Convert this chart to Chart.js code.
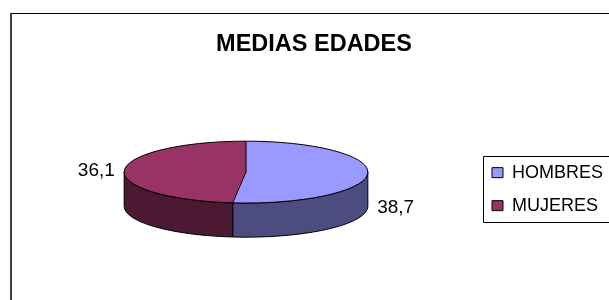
<!DOCTYPE html>
<html>
<head>
<meta charset="utf-8">
<script src="https://cdn.jsdelivr.net/npm/chart.js@4.4.0/dist/chart.umd.min.js"></script>
<style>
  html, body { margin: 0; padding: 0; overflow: hidden; background: #fff; }
  #clip { position: absolute; left: 0; top: 0; width: 609px; height: 300px; overflow: hidden; }
  #frame {
    position: absolute; left: 10px; top: 13px; width: 601px; height: 297px;
    border-top: 1px solid #000; border-left: 2px solid #404040;
  }
  canvas { display: block; }
</style>
</head>
<body>
<div id="clip"><div id="frame"><canvas id="edades" width="601" height="297"></canvas></div></div>
<script>
const categories = ['HOMBRES', 'MUJERES'];
const ages = [38.7, 36.1];
const ageLabels = ages.map(v => v.toFixed(1).replace('.', ','));

const topColors = ['#9999FF', '#993366'];
const sideColors = ['#4C4C80', '#4C1933'];
const FONT = '"Liberation Sans", Arial, sans-serif';

const FLAT = 0.254;      // squash of the top face
const DEPTH = 0.28;      // side wall height, share of radius
const LABEL_OUT = 1.23;  // label distance, share of radius

function pieGeometry(arc) {
    const depth = arc.outerRadius * DEPTH;
    return { cx: arc.x, cy: arc.y - depth / 2, rx: arc.outerRadius, ry: arc.outerRadius * FLAT, depth: depth };
}

// fake 3D: side walls under the slices, library slices squashed into an ellipse
const pie3d = {
    id: 'pie3d',
    beforeDatasetsDraw(chart) {
        const ctx = chart.ctx;
        const arcs = chart.getDatasetMeta(0).data;
        const g = pieGeometry(arcs[0]);
        ctx.save();
        ctx.lineWidth = 1;
        ctx.strokeStyle = '#000';
        arcs.forEach((arc, i) => {
            const a = Math.max(arc.startAngle, 0);
            const b = Math.min(arc.endAngle, Math.PI);
            if (b <= a) return;
            ctx.beginPath();
            ctx.ellipse(g.cx, g.cy, g.rx, g.ry, 0, a, b);
            ctx.ellipse(g.cx, g.cy + g.depth, g.rx, g.ry, 0, b, a, true);
            ctx.closePath();
            ctx.fillStyle = sideColors[i];
            ctx.fill();
            ctx.stroke();
        });
        ctx.restore();
        ctx.save();
        ctx.translate(0, g.cy);
        ctx.scale(1, FLAT);
        ctx.translate(0, -arcs[0].y);
    },
    afterDatasetsDraw(chart) {
        const ctx = chart.ctx;
        const arcs = chart.getDatasetMeta(0).data;
        ctx.restore();
        const g = pieGeometry(arcs[0]);
        ctx.save();
        ctx.lineWidth = 1;
        ctx.strokeStyle = '#000';
        ctx.beginPath();
        ctx.ellipse(g.cx, g.cy, g.rx, g.ry, 0, 0, Math.PI * 2);
        arcs.forEach(arc => {
            ctx.moveTo(g.cx, g.cy);
            ctx.lineTo(g.cx + g.rx * Math.cos(arc.startAngle), g.cy + g.ry * Math.sin(arc.startAngle));
        });
        ctx.stroke();

        ctx.font = '19px ' + FONT;
        ctx.fillStyle = '#000';
        ctx.textAlign = 'center';
        ctx.textBaseline = 'middle';
        arcs.forEach((arc, i) => {
            const mid = (arc.startAngle + arc.endAngle) / 2;
            const x = g.cx + g.rx * LABEL_OUT * Math.cos(mid);
            let y = g.cy + g.ry * Math.sin(mid);
            if (Math.sin(mid) > 0) y += g.depth; // front labels sit beside the wall
            ctx.fillText(ageLabels[i], x, y);
        });
        ctx.restore();
    },
    afterDraw(chart) {
        // box round the legend, its right side runs off the canvas
        const lg = chart.legend;
        const boxes = lg.legendHitBoxes;
        const last = boxes[boxes.length - 1];
        const ctx = chart.ctx;
        const left = Math.round(lg.left + 6) + 0.5;
        const top = Math.round(boxes[0].top - 8) + 0.5;
        const bottom = Math.round(last.top + last.height + 7) + 0.5;
        const right = chart.width + 5;
        ctx.save();
        ctx.strokeStyle = '#000';
        ctx.lineWidth = 1;
        ctx.beginPath();
        ctx.moveTo(right, top);
        ctx.lineTo(left, top);
        ctx.lineTo(left, bottom);
        ctx.lineTo(right, bottom);
        ctx.stroke();
        ctx.restore();
    }
};

Chart.defaults.color = '#000';
Chart.defaults.font.family = FONT;

new Chart(document.getElementById('edades'), {
    type: 'pie',
    data: {
        labels: categories,
        datasets: [{
            data: ages,
            backgroundColor: topColors,
            borderWidth: 0,
            hoverOffset: 0,
            clip: false
        }]
    },
    options: {
        responsive: false,
        animation: false,
        events: [],
        layout: { padding: { left: 3, right: 0, top: 0, bottom: 0 } },
        plugins: {
            title: {
                display: true,
                text: 'MEDIAS EDADES',
                color: '#000',
                font: { size: 23.5, weight: 'bold', lineHeight: 1.2 },
                padding: { top: 16.1, bottom: 9 }
            },
            legend: {
                position: 'right',
                align: 'center',
                fullSize: false,
                labels: {
                    boxWidth: 11,
                    boxHeight: 10,
                    padding: 15,
                    color: '#000',
                    font: { size: 18 },
                    generateLabels(chart) {
                        const items = Chart.overrides.pie.plugins.legend.labels.generateLabels(chart);
                        items.forEach(it => { it.lineWidth = 1; it.strokeStyle = '#000'; });
                        return items;
                    }
                }
            },
            tooltip: { enabled: false }
        }
    },
    plugins: [pie3d]
});
</script>
</body>
</html>
